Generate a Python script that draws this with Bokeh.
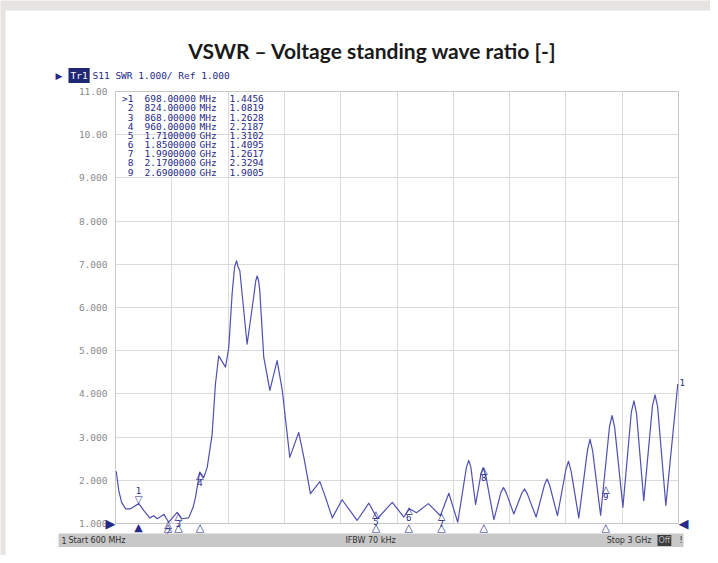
from bokeh.plotting import figure
from bokeh.models import Range1d, FixedTicker, Label, BoxAnnotation, LinearAxis
from bokeh.core.properties import value
from bokeh.embed import file_html
from bokeh.resources import INLINE

# ---- trace data (MHz, VSWR) ----
freq_mhz = [603, 614, 626, 643, 664, 699, 721, 746, 763, 778, 806, 827, 863, 884, 912,
            931, 941, 959, 976, 991, 1012, 1026, 1040, 1069, 1083, 1097, 1108, 1116, 1122,
            1130, 1161, 1183, 1198, 1204, 1210, 1215, 1232, 1258, 1289, 1311, 1343, 1381,
            1403, 1431, 1471, 1495, 1524, 1566, 1630, 1680, 1716, 1780, 1829, 1853, 1883,
            1934, 1985, 2021, 2059, 2096, 2106, 2115, 2135, 2158, 2167, 2178, 2213, 2243,
            2254, 2265, 2298, 2332, 2344, 2356, 2393, 2429, 2440, 2451, 2484, 2520, 2531,
            2542, 2575, 2612, 2623, 2634, 2668, 2706, 2717, 2728, 2763, 2799, 2810, 2821,
            2852, 2889, 2900, 2911, 2946, 2997]
vswr = [2.21, 1.76, 1.49, 1.34, 1.34, 1.46, 1.30, 1.13, 1.18, 1.11, 1.21, 1.03, 1.26, 1.11,
        1.13, 1.38, 1.61, 2.19, 2.06, 2.30, 3.07, 4.23, 4.88, 4.62, 5.08, 6.31, 6.95, 7.08,
        6.95, 6.85, 5.15, 6.00, 6.62, 6.73, 6.62, 6.39, 4.85, 4.08, 4.77, 4.08, 2.53, 3.11,
        2.53, 1.69, 1.97, 1.61, 1.13, 1.55, 1.07, 1.47, 1.11, 1.49, 1.15, 1.34, 1.25,
        1.46, 1.18, 1.70, 1.03, 2.30, 2.46, 2.30, 1.44, 2.15, 2.29, 2.12, 1.09, 1.72,
        1.83, 1.72, 1.22, 1.70, 1.80, 1.68, 1.15, 1.90, 2.03, 1.88, 1.18, 2.25, 2.44,
        2.22, 1.13, 2.70, 2.95, 2.68, 1.19, 3.25, 3.50, 3.22, 1.38, 3.58, 3.84, 3.55,
        1.53, 3.72, 3.98, 3.70, 1.42, 4.23]

# ---- markers ----
marker_ids = [">1", "2", "3", "4", "5", "6", "7", "8", "9"]
marker_num = ["1", "2", "3", "4", "5", "6", "7", "8", "9"]
marker_freq_mhz = [698, 824, 868, 960, 1710, 1850, 1990, 2170, 2690]
marker_freq_text = ["698.00000", "824.00000", "868.00000", "960.00000", "1.7100000",
                    "1.8500000", "1.9900000", "2.1700000", "2.6900000"]
marker_unit = ["MHz", "MHz", "MHz", "MHz", "GHz", "GHz", "GHz", "GHz", "GHz"]
marker_vswr = [1.4456, 1.0819, 1.2628, 2.2187, 1.3102, 1.4095, 1.2617, 2.3294, 1.9005]
marker_vswr_text = ["1.4456", "1.0819", "1.2628", "2.2187", "1.3102", "1.4095", "1.2617",
                    "2.3294", "1.9005"]

# ---- axes ----
y_ticks = [1, 2, 3, 4, 5, 6, 7, 8, 9, 10, 11]
y_tick_labels = ["1.000", "2.000", "3.000", "4.000", "5.000", "6.000", "7.000", "8.000",
                 "9.000", "10.00", "11.00"]
x_start, x_stop, x_divs = 600, 3000, 10
x_grid = [x_start + k * (x_stop - x_start) / x_divs for k in range(x_divs + 1)]

title_text = "VSWR \u2013 Voltage standing wave ratio [-]"
header_text = "S11 SWR 1.000/ Ref 1.000"
status_num = "1"
status_left = "Start 600 MHz"
status_mid = "IFBW 70 kHz"
status_right = "Stop 3 GHz"

# ---- layout (pixels) ----
W, H = 710, 555
FL, FR, FT, FB = 115, 678, 91, 523
y_min, y_max = y_ticks[0], y_ticks[-1]
kx = (x_stop - x_start) / (FR - FL)
ky = (y_max - y_min) / (FB - FT)
x0, x1 = x_start - FL * kx, x_start + (W - FL) * kx
ytop, ybot = y_max + FT * ky, y_min - (H - FB) * ky


def X(px):
    return x0 + px * kx


def Y(py):
    return ytop - py * ky


NAVY = "#262a86"
TRACE = "#5050b2"
GRID = "#dadada"
MONO = "DejaVu Sans Mono"

p = figure(width=W, height=H, x_range=Range1d(x0, x1), y_range=Range1d(ybot, ytop),
           x_axis_location=None, y_axis_location=None, min_border=0,
           output_backend="svg", toolbar_location=None)
p.outline_line_color = None
p.background_fill_color = "#e6e3e0"
p.border_fill_color = "#e6e3e0"
p.xgrid.visible = False
p.ygrid.visible = False

# white slide card
p.add_layout(BoxAnnotation(left=X(5), top=Y(10), right=X(W + 10), bottom=Y(H + 10),
                           fill_color="white", fill_alpha=1.0, line_color=None, level="image"))

# y axis (labels + horizontal grid via inward ticks)
yax = LinearAxis(fixed_location=x_start, ticker=FixedTicker(ticks=y_ticks),
                 major_label_overrides={t: l for t, l in zip(y_ticks, y_tick_labels)},
                 axis_line_color=None, major_tick_in=FR - FL, major_tick_out=0,
                 major_tick_line_color=GRID, minor_tick_line_color=None,
                 major_label_standoff=8, major_label_text_font=MONO,
                 major_label_text_font_size="9.5px", major_label_text_color="#8a8a8a")
yax.level = "underlay"
p.add_layout(yax, "left")

# x axis (vertical grid via inward ticks)
xax = LinearAxis(fixed_location=y_min, ticker=FixedTicker(ticks=x_grid),
                 axis_line_color=None, major_tick_in=FB - FT, major_tick_out=0,
                 major_tick_line_color=GRID, minor_tick_line_color=None,
                 major_label_text_alpha=0)
xax.level = "underlay"
p.add_layout(xax, "below")

# plot border
p.add_layout(BoxAnnotation(left=x_start, right=x_stop, bottom=y_min, top=y_max,
                           fill_alpha=0, line_color="#9c9c9c", line_width=1))

# trace
p.line(freq_mhz, vswr, line_color=TRACE, line_width=1.2, line_join="round")

# markers on trace
p.text(x=marker_freq_mhz[:1], y=marker_vswr[:1], text=["\u25bd"], text_align="center",
       text_baseline="bottom", text_font=value("DejaVu Sans"), text_font_size="10px",
       text_color=NAVY, y_offset=1)
p.text(x=marker_freq_mhz[:1], y=marker_vswr[:1], text=marker_num[:1], text_align="center",
       text_baseline="bottom", text_font=value(MONO), text_font_size="9px",
       text_color=NAVY, y_offset=-10)
p.text(x=marker_freq_mhz[1:], y=marker_vswr[1:], text=["\u25b3"] * 8, text_align="center",
       text_baseline="top", text_font=value("DejaVu Sans"), text_font_size="10px",
       text_color=NAVY, y_offset=-1)
p.text(x=marker_freq_mhz[1:], y=marker_vswr[1:], text=marker_num[1:], text_align="center",
       text_baseline="top", text_font=value(MONO), text_font_size="9px",
       text_color=NAVY, y_offset=8)

# marker table
row_y = [Y(98.3 + 9.17 * i) for i in range(len(marker_ids))]
tbl = dict(text_baseline="middle", text_font=value(MONO), text_font_size="9.5px",
           text_color=NAVY)
p.text(x=[X(133)] * 9, y=row_y, text=marker_ids, text_align="right", **tbl)
p.text(x=[X(144)] * 9, y=row_y, text=marker_freq_text, text_align="left", **tbl)
p.text(x=[X(199)] * 9, y=row_y, text=marker_unit, text_align="left", **tbl)
p.text(x=[X(229)] * 9, y=row_y, text=marker_vswr_text, text_align="left", **tbl)

# bottom marker row
p.text(x=marker_freq_mhz, y=[Y(527)] * 9,
       text=["\u25b2"] + ["\u25b3"] * 8, text_align="center", text_baseline="middle",
       text_font=value("DejaVu Sans"), text_font_size="11px", text_color=NAVY)

# reference-level triangles and trace label
p.text(x=[x_start], y=[y_min], text=["\u25b6"], text_align="right", text_baseline="middle",
       text_font=value("DejaVu Sans"), text_font_size="13px", text_color=NAVY)
p.text(x=[x_stop], y=[y_min], text=["\u25c0"], text_align="left", text_baseline="middle",
       text_font=value("DejaVu Sans"), text_font_size="13px", text_color=NAVY)
p.text(x=[x_stop], y=[vswr[-1]], text=["1"], text_align="left", text_baseline="middle",
       text_font=value(MONO), text_font_size="9px", text_color=NAVY, x_offset=1, y_offset=-1)

# title & header
p.add_layout(Label(x=X(372), y=Y(50), text=title_text, text_align="center",
                   text_baseline="middle", text_font="Lato", text_font_style="bold",
                   text_font_size="21px", text_color="#1a1a1a"))
p.add_layout(Label(x=X(55), y=Y(75), text="\u25b6", text_align="left", text_baseline="middle",
                   text_font="DejaVu Sans", text_font_size="9px", text_color=NAVY))
p.add_layout(Label(x=X(68), y=Y(75), text="Tr1", text_align="left", text_baseline="middle",
                   text_font=MONO, text_font_size="9.5px", text_color="white",
                   background_fill_color="#1f2775", padding=2))
p.add_layout(Label(x=X(92), y=Y(75), text=header_text, text_align="left",
                   text_baseline="middle", text_font=MONO, text_font_size="9.5px",
                   text_color=NAVY))

# status bar
p.add_layout(BoxAnnotation(left=X(58), right=X(683), top=Y(533), bottom=Y(546.5),
                           fill_color="#c8c8c8", fill_alpha=1.0, line_color=None))
st = dict(y=Y(540), text_baseline="middle", text_font="DejaVu Sans", text_font_size="8px",
          text_color="#303030")
p.add_layout(Label(x=X(61), text=status_num, text_align="left", **st))
p.add_layout(Label(x=X(68), text=status_left, text_align="left", **st))
p.add_layout(Label(x=X(370), text=status_mid, text_align="center", **st))
p.add_layout(Label(x=X(651), text=status_right, text_align="right", **st))
p.add_layout(Label(x=X(657), y=Y(540), text="Off", text_align="left", text_baseline="middle",
                   text_font="DejaVu Sans", text_font_size="8px", text_color="#b8b8b8",
                   background_fill_color="#3c3c3c", padding=1))
p.add_layout(Label(x=X(679), text="!", text_align="left", **st))

open("out.html", "w").write(file_html(p, INLINE))
